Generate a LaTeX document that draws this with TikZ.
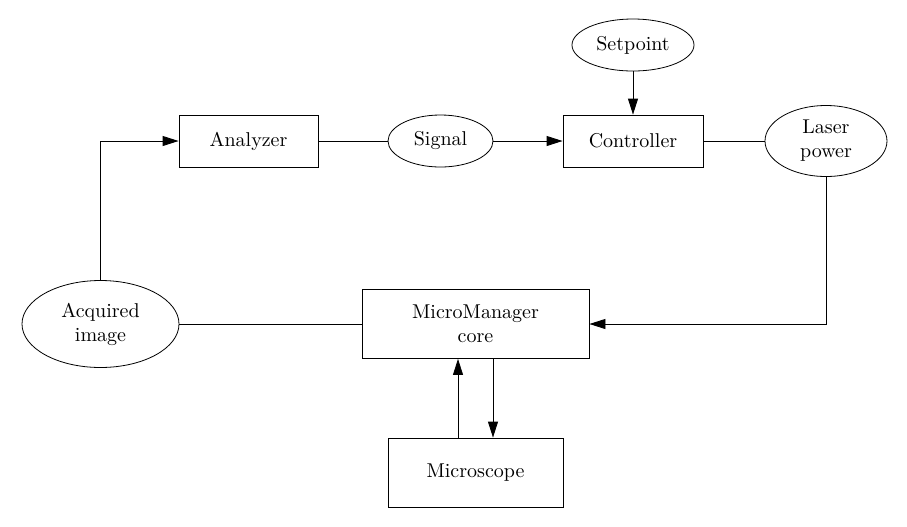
\documentclass[tikz,border=0pt]{standalone}
\usetikzlibrary{shapes.geometric,arrows.meta}
\begin{document}
\begin{tikzpicture}[x=0.5pt,y=-0.5pt,
  box/.style={draw,rectangle,inner sep=0pt,align=center},
  ell/.style={draw,ellipse,inner sep=0pt,align=center},
  arr/.style={-{Triangle[length=8pt,width=5pt]}},
  every node/.style={font=\normalsize}]
\useasboundingbox (0,0) rectangle (907,526);
\node[ell,minimum width=122*0.5pt,minimum height=52*0.5pt] (set) at (633,45) {Setpoint};
\node[box,minimum width=139*0.5pt,minimum height=52*0.5pt] (ana) at (248.5,141) {Analyzer};
\node[ell,minimum width=105*0.5pt,minimum height=52*0.5pt] (sig) at (440.5,141) {Signal};
\node[box,minimum width=140*0.5pt,minimum height=52*0.5pt] (con) at (633,141) {Controller};
\node[ell,minimum width=122*0.5pt,minimum height=71*0.5pt] (las) at (826,141) {Laser\\power};
\node[ell,minimum width=157*0.5pt,minimum height=87*0.5pt] (acq) at (100.5,324) {Acquired\\image};
\node[box,minimum width=227*0.5pt,minimum height=69*0.5pt] (mmc) at (475.5,324) {MicroManager\\core};
\node[box,minimum width=175*0.5pt,minimum height=69*0.5pt] (mic) at (475.5,472.5) {Microscope};
\coordinate (c1) at (100.5,141);
\coordinate (c2) at (826,324);
\draw[arr] (acq.north) -- (c1) -- (ana.west);
\draw (ana.east) -- (sig.west);
\draw[arr] (sig.east) -- (con.west);
\draw[arr] (set.south) -- (con.north);
\draw (con.east) -- (las.west);
\draw[arr] (las.south) -- (c2) -- (mmc.east);
\draw (acq.east) -- (mmc.west);
\draw[arr] (mic.north -| 458,0) -- (mmc.south -| 458,0);
\draw[arr] (mmc.south -| 493,0) -- (mic.north -| 493,0);
\end{tikzpicture}
\end{document}
